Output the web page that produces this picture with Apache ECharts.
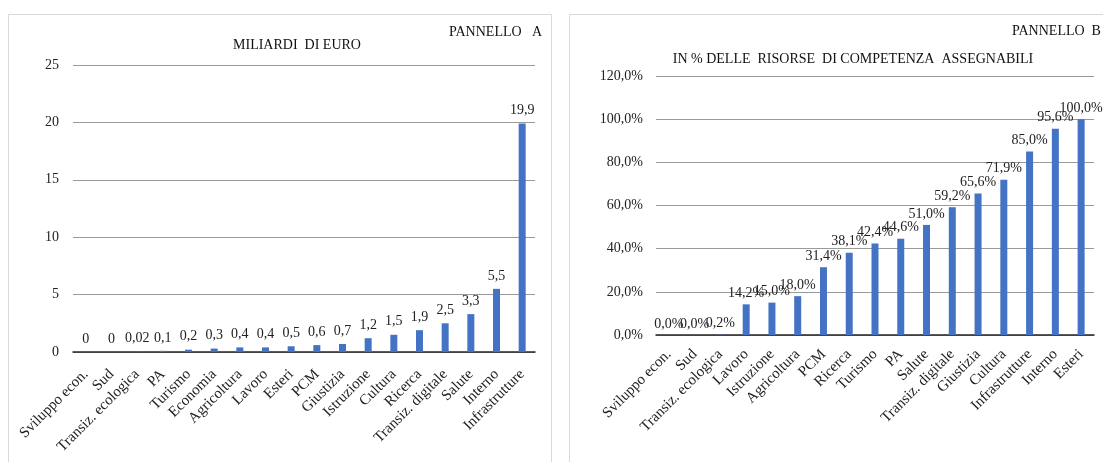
<!DOCTYPE html>
<html>
<head>
<meta charset="utf-8">
<script src="https://cdn.jsdelivr.net/npm/echarts@6/dist/echarts.min.js"></script>
<style>
html,body{margin:0;padding:0;background:#fff;}
#c{width:1103px;height:462px;}
</style>
</head>
<body>
<div id="c"></div>
<script>
// Panel A: miliardi di euro
const catsA = ['Sviluppo econ.','Sud','Transiz. ecologica','PA','Turismo','Economia','Agricoltura','Lavoro','Esteri','PCM','Giustizia','Istruzione','Cultura','Ricerca','Transiz. digitale','Salute','Interno','Infrastrutture'];
const valsA = [0,0,0.02,0.1,0.2,0.3,0.4,0.4,0.5,0.6,0.7,1.2,1.5,1.9,2.5,3.3,5.5,19.9];
const ticksA = [0,5,10,15,20,25];
// Panel B: % delle risorse di competenza assegnabili
const catsB = ['Sviluppo econ.','Sud','Transiz. ecologica','Lavoro','Istruzione','Agricoltura','PCM','Ricerca','Turismo','PA','Salute','Transiz. digitale','Giustizia','Cultura','Infrastrutture','Interno','Esteri'];
const valsB = [0.0,0.0,0.2,14.2,15.0,18.0,31.4,38.1,42.4,44.6,51.0,59.2,65.6,71.9,85.0,95.6,100.0];
const ticksB = [0,20,40,60,80,100,120];

const FONT = '"Liberation Serif", "Times New Roman", serif';
const TXT = '#222';
const BLUE = '#4472C4';

function comma(v, d){ return (d==null ? String(v) : v.toFixed(d)).replace('.', ','); }

const chart = echarts.init(document.getElementById('c'), null, {renderer:'canvas'});
const axisLabelBase = {fontFamily: FONT, fontSize: 14, color: TXT};
const catLabelBase = {fontFamily: FONT, fontSize: 15, color: TXT, interval:0, rotate:45};
const titleStyle = {fontFamily:FONT, fontSize:14, fontWeight:'normal', color:'#111'};
chart.setOption({
  backgroundColor: '#fff',
  animation: false,
  graphic: [
    {type:'rect', shape:{x:8.5,y:14.5,width:543,height:470}, style:{fill:'none', stroke:'#d9d9d9', lineWidth:1}, silent:true},
    {type:'rect', shape:{x:569.5,y:14.5,width:560,height:470}, style:{fill:'none', stroke:'#d9d9d9', lineWidth:1}, silent:true}
  ],
  title: [
    {text:'MILIARDI  DI EURO', left:297, top:38, padding:0, textAlign:'center', textStyle:titleStyle},
    {text:'PANNELLO   A', left:449, top:25, padding:0, textStyle:titleStyle},
    {text:'IN % DELLE  RISORSE  DI COMPETENZA  ASSEGNABILI', left:853, top:52, padding:0, textAlign:'center', textStyle:titleStyle},
    {text:'PANNELLO  B', left:1012, top:24, padding:0, textStyle:titleStyle}
  ],
  grid: [
    {left:73, top:65, width:462, height:287, containLabel:false},
    {left:656, top:76, width:438, height:259, containLabel:false}
  ],
  xAxis: [
    {type:'category', gridIndex:0, data:catsA,
     axisLine:{lineStyle:{color:'#262626', width:1.5}}, axisTick:{show:false},
     axisLabel:Object.assign({margin:20}, catLabelBase)},
    {type:'category', gridIndex:1, data:catsB,
     axisLine:{lineStyle:{color:'#262626', width:1.5}}, axisTick:{show:false},
     axisLabel:Object.assign({margin:17}, catLabelBase)}
  ],
  yAxis: [
    {type:'value', gridIndex:0, min:ticksA[0], max:ticksA[ticksA.length-1], interval:ticksA[1]-ticksA[0],
     axisLine:{show:false}, axisTick:{show:false},
     splitLine:{lineStyle:{color:'#9a9a9a', width:1}},
     axisLabel:Object.assign({margin:14, formatter:v=>comma(v)}, axisLabelBase)},
    {type:'value', gridIndex:1, min:ticksB[0], max:ticksB[ticksB.length-1], interval:ticksB[1]-ticksB[0],
     axisLine:{show:false}, axisTick:{show:false},
     splitLine:{lineStyle:{color:'#9a9a9a', width:1}},
     axisLabel:Object.assign({margin:13, formatter:v=>comma(v,1)+'%'}, axisLabelBase)}
  ],
  series: [
    {type:'bar', xAxisIndex:0, yAxisIndex:0, data:valsA, barWidth:7,
     itemStyle:{color:BLUE},
     label:{show:true, position:'top', distance:6, fontFamily:FONT, fontSize:14, color:TXT, formatter:p=>comma(p.value)}},
    {type:'bar', xAxisIndex:1, yAxisIndex:1, data:valsB, barWidth:7,
     itemStyle:{color:BLUE},
     label:{show:true, position:'top', distance:4, fontFamily:FONT, fontSize:14, color:TXT, formatter:p=>comma(p.value,1)+'%'}}
  ]
});
</script>
</body>
</html>
